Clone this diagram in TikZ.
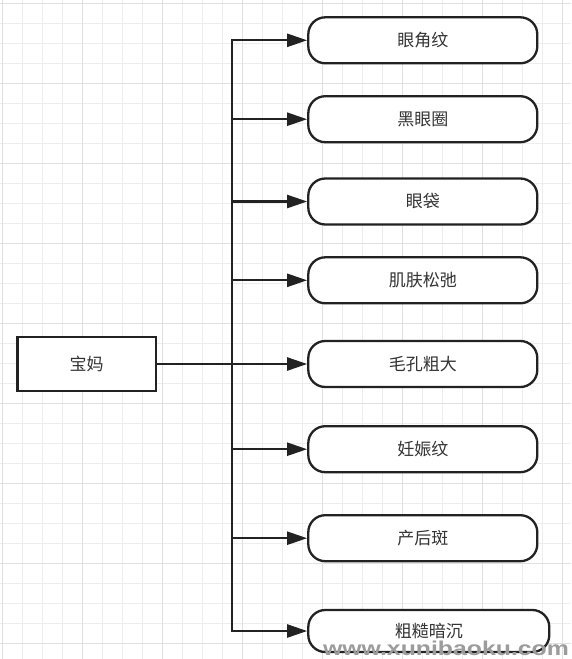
\documentclass[tikz,border=0pt]{standalone}
\usepackage{fontspec}
\setmainfont{Liberation Sans}
\newfontfamily\cjk{Noto Sans CJK SC}
\usetikzlibrary{arrows.meta}
\definecolor{gridminor}{HTML}{EDEDED}
\definecolor{gridmajor}{HTML}{E0E0E0}
\definecolor{ink}{HTML}{222222}
\definecolor{txt}{HTML}{333333}
\definecolor{wm}{HTML}{9C9C9C}
\tikzset{
  pill/.style={draw=ink, line width=2.3pt, fill=white, rounded corners=17pt,
    minimum width=229pt, minimum height=46pt, inner sep=0pt,
    font=\cjk\fontsize{17}{17}\selectfont, text=txt},
  rootbox/.style={draw=ink, line width=2.3pt, fill=white,
    minimum width=138.5pt, minimum height=54pt, inner sep=0pt,
    font=\cjk\fontsize{17}{17}\selectfont, text=txt},
  conn/.style={draw=ink, line width=2.3pt},
  arr/.style={conn, -{Triangle[length=20pt,width=13pt]}},
}
\begin{document}
\begin{tikzpicture}[x=1pt,y=-1pt]
\useasboundingbox (0,0) rectangle (571,659);
\fill[white] (0,0) rectangle (571,659);
% grid
\foreach \i in {0,...,28} {
  \draw[gridminor, line width=1pt] ({2.5+20*\i},0) -- ({2.5+20*\i},659);
}
\foreach \j in {0,...,32} {
  \draw[gridminor, line width=1pt] (0,{3.3+20*\j}) -- (571,{3.3+20*\j});
}
\foreach \i in {0,...,7} {
  \draw[gridmajor, line width=1.2pt] ({2.5+80*\i},0) -- ({2.5+80*\i},659);
}
\foreach \j in {0,...,8} {
  \draw[gridmajor, line width=1.2pt] (0,{3.3+80*\j}) -- (571,{3.3+80*\j});
}
% nodes
\node[rootbox] (mom) at (86.7,364) {宝妈};
\node[pill] (b1) at (422.8,40.3) {眼角纹};
\node[pill] (b2) at (422.8,119.2) {黑眼圈};
\node[pill] (b3) at (422.8,201.5) {眼袋};
\node[pill] (b4) at (422.8,280.3) {肌肤松弛};
\node[pill] (b5) at (422.8,364) {毛孔粗大};
\node[pill] (b6) at (422.8,449.2) {妊娠纹};
\node[pill] (b7) at (422.8,538.2) {产后斑};
\node[pill, minimum width=241pt, minimum height=42pt] (b8) at (428.8,631) {粗糙暗沉};
% junctions on the trunk
\coordinate (j1) at (232.3,40.3);
\coordinate (j2) at (232.3,119.2);
\coordinate (j3) at (232.3,201.5);
\coordinate (j4) at (232.3,280.3);
\coordinate (j5) at (232.3,364);
\coordinate (j6) at (232.3,449.2);
\coordinate (j7) at (232.3,538.2);
\coordinate (j8) at (232.3,631);
% connectors
\draw[conn] (mom.east) -- (j5);
\draw[conn, line cap=rect] (j1) -- (j8);
\draw[arr] (j1) -- (b1.west);
\draw[arr] (j2) -- (b2.west);
\draw[arr] (j3) -- (b3.west);
\draw[arr] (j4) -- (b4.west);
\draw[arr] (j5) -- (b5.west);
\draw[arr] (j6) -- (b6.west);
\draw[arr] (j7) -- (b7.west);
\draw[arr] (j8) -- (b8.west);
% watermark
\node[text=wm, font=\bfseries\fontsize{20}{20}\selectfont, xscale=1.24, inner sep=0pt] (wmark) at (446,648) {www.xunibaoku.com};
\end{tikzpicture}
\end{document}
